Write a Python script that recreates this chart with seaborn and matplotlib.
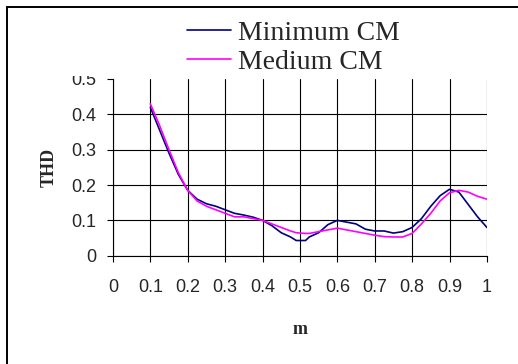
import seaborn as sns
import matplotlib.pyplot as plt
import matplotlib.patches as patches
import pandas as pd

# valores (paso 0.025)
m_vals = [0.1, 0.125, 0.15, 0.175, 0.2, 0.225, 0.25, 0.275, 0.3, 0.325,
          0.35, 0.375, 0.4, 0.425, 0.45, 0.475, 0.49, 0.515, 0.525, 0.55,
          0.575, 0.6, 0.625, 0.65, 0.675, 0.7, 0.725, 0.75, 0.775, 0.8,
          0.825, 0.85, 0.875, 0.9, 0.925, 0.95, 0.975, 1.0]
thd_minimum = [0.42, 0.355, 0.29, 0.23, 0.185, 0.16, 0.147, 0.14, 0.13, 0.12,
               0.115, 0.109, 0.10, 0.085, 0.065, 0.053, 0.043, 0.043, 0.053, 0.065,
               0.088, 0.10, 0.095, 0.09, 0.075, 0.07, 0.07, 0.064, 0.068, 0.08,
               0.105, 0.14, 0.17, 0.188, 0.18, 0.145, 0.11, 0.08]
thd_medium = [0.43, 0.368, 0.30, 0.235, 0.185, 0.155, 0.14, 0.13, 0.12, 0.11,
              0.11, 0.105, 0.10, 0.09, 0.08, 0.07, 0.065, 0.063, 0.063, 0.068,
              0.073, 0.078, 0.073, 0.068, 0.063, 0.058, 0.054, 0.053, 0.053, 0.063,
              0.09, 0.12, 0.155, 0.178, 0.185, 0.18, 0.168, 0.16]
series_names = ['Minimum CM', 'Medium CM']
series_colors = ['#000080', '#FF00FF']

data = pd.DataFrame({
    'm': m_vals * 2,
    'THD': thd_minimum + thd_medium,
    'serie': [series_names[0]] * len(m_vals) + [series_names[1]] * len(m_vals),
})

sns.set_style('white')
fig = plt.figure(figsize=(5.18, 3.64), dpi=100)
ax = fig.add_axes([0.218, 0.2975, 0.722, 0.4855])

sns.lineplot(data=data, x='m', y='THD', hue='serie', palette=series_colors,
             linewidth=1.2, ax=ax, legend=False, sort=False)

ax.set_xlim(0, 1)
ax.set_ylim(0, 0.5)
ax.set_xticks([i / 10 for i in range(11)])
ax.set_xticklabels(['0'] + [f'{i / 10:.1f}' for i in range(1, 10)] + ['1'])
ax.set_yticks([i / 10 for i in range(6)])
ax.set_yticklabels(['0'] + [f'{i / 10:.1f}' for i in range(1, 6)])
for lbl in ax.get_xticklabels() + ax.get_yticklabels():
    lbl.set_fontfamily('Liberation Sans')
    lbl.set_fontsize(13)
ax.tick_params(axis='both', direction='out', length=4, width=0.8, color='black',
               bottom=True, left=True)
ax.tick_params(axis='x', pad=13)
ax.tick_params(axis='y', pad=8)

ax.grid(True, color='black', linewidth=0.8)
ax.set_axisbelow(True)
ax.yaxis.get_gridlines()[-1].set_visible(False)
for side in ['top', 'right']:
    ax.spines[side].set_visible(False)
for side in ['left', 'bottom']:
    ax.spines[side].set_color('black')
    ax.spines[side].set_linewidth(0.8)

ax.set_xlabel('m', fontfamily='Liberation Serif', fontweight='bold', fontsize=13, labelpad=18)
ax.set_ylabel('THD', fontfamily='Liberation Serif', fontweight='bold', fontsize=13, labelpad=10)

# zona blanca de la leyenda (tapa parte del "0.5")
fig.add_artist(patches.Rectangle((55 / 518, 1 - 76 / 364), 365 / 518, 66 / 364,
                                 facecolor='white', edgecolor='none', zorder=4,
                                 transform=fig.transFigure))

handles = [plt.Line2D([], [], color=c, lw=1.2) for c in series_colors]
leg = fig.legend(handles, series_names, loc='upper left', bbox_to_anchor=(0.323, 0.998),
                 prop={'family': 'Liberation Serif', 'size': 20}, frameon=False,
                 handlelength=1.6, handletextpad=0.25, labelspacing=0.14, borderpad=0.2)
leg.set_zorder(5)

# marco exterior
fig.add_artist(patches.Rectangle((7 / 518, -0.1), 1.2, 1 - 7 / 364 + 0.1, fill=False,
                                 edgecolor='black', linewidth=1.4, transform=fig.transFigure))

fig.savefig('out.png', dpi=100)
